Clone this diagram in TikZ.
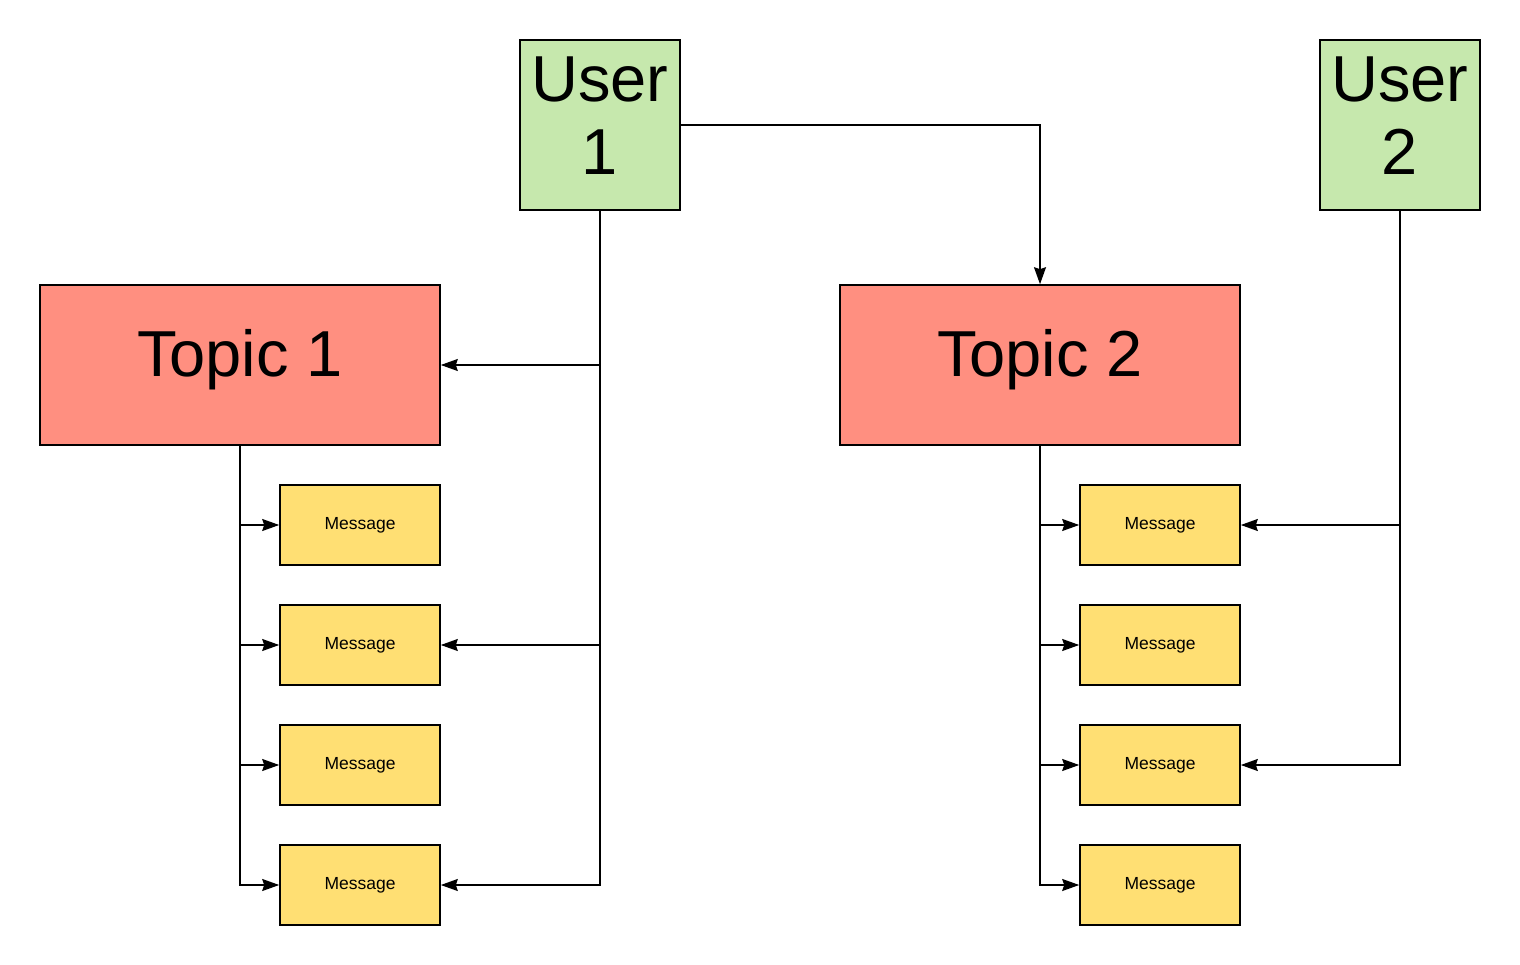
\documentclass[tikz,border=0pt]{standalone}
\usepackage{fontspec}
\setmainfont{Liberation Sans}
\usetikzlibrary{arrows.meta}
\definecolor{usergreen}{HTML}{C6E8AD}
\definecolor{topicred}{HTML}{FF8F80}
\definecolor{msgyellow}{HTML}{FFDF73}
\tikzset{
  userbox/.style={draw=black, line width=1.6pt, fill=usergreen, minimum width=160pt, minimum height=170pt, inner sep=0pt},
  usertext/.style={inner sep=0pt, align=center, yshift=9pt, font=\fontsize{65}{73}\selectfont},
  topicbox/.style={draw=black, line width=1.6pt, fill=topicred, minimum width=400pt, minimum height=160pt, inner sep=0pt, text height=47pt, text depth=23pt, font=\fontsize{65}{76}\selectfont},
  msgbox/.style={draw=black, line width=1.6pt, fill=msgyellow, minimum width=160pt, minimum height=80pt, inner sep=0pt, text height=12.5pt, text depth=4.5pt, font=\fontsize{17.5}{20}\selectfont},
  link/.style={draw=black, line width=1.6pt, -{Stealth[length=17pt, width=12pt, inset=2pt]}},
}
\begin{document}
\begin{tikzpicture}[x=1pt,y=-1pt]
\useasboundingbox (0,0) rectangle (1520,965);
\node[userbox, label={[usertext]center:User\\1}] (u1) at (600,125) {};
\node[userbox, label={[usertext]center:User\\2}] (u2) at (1400,125) {};
\node[topicbox] (t1) at (240,365) {Topic 1};
\node[topicbox] (t2) at (1040,365) {Topic 2};
\foreach \i/\y in {1/525,2/645,3/765,4/885}{
  \node[msgbox] (m\i) at (360,\y) {Message};
  \node[msgbox] (n\i) at (1160,\y) {Message};
}
% User 1
\draw[link] (u1.east) -| (t2.north);
\draw[link] (u1.south) |- (t1.east);
\draw[link] (u1.south) |- (m2.east);
\draw[link] (u1.south) |- (m4.east);
% Topics to messages
\foreach \i in {1,2,3,4}{
  \draw[link] (t1.south) |- (m\i.west);
  \draw[link] (t2.south) |- (n\i.west);
}
% User 2
\draw[link] (u2.south) |- (n1.east);
\draw[link] (u2.south) |- (n3.east);
\end{tikzpicture}
\end{document}
